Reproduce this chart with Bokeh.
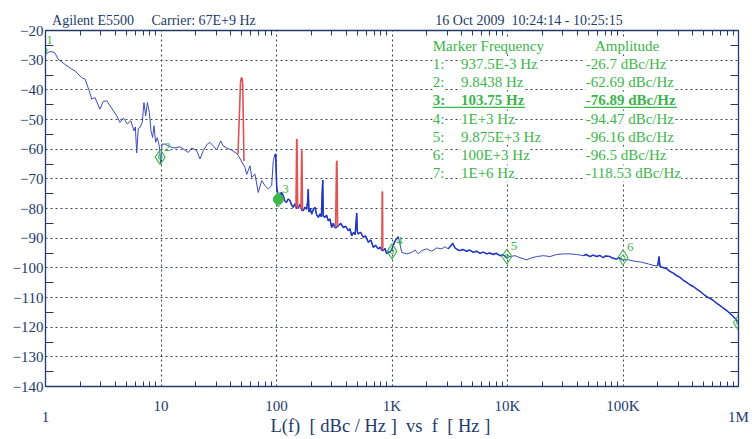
from bokeh.plotting import figure
from bokeh.models import Range1d, LogAxis, LinearAxis, FixedTicker, Label
from bokeh.core.properties import value
from bokeh.embed import file_html
from bokeh.resources import INLINE

# ---------------- data ----------------
freq_hz = [
    1.0, 1.09, 1.2, 1.29, 1.47, 1.68, 1.8, 2.06, 2.2, 2.42, 2.51, 2.68, 2.96, 3.16, 3.39,
    3.74, 4.14, 4.42, 4.72, 5.11, 5.47, 5.84, 6.0, 6.16, 6.36, 6.58, 6.88, 7.12, 7.37, 7.62,
    7.93, 8.19, 8.46, 8.7, 8.99, 9.29, 9.48, 9.66, 9.94, 10.2,
    10.83, 11.96, 13.21, 14.61, 15.6, 17.23, 18.43, 20.37, 21.76, 23.24, 25.17, 26.56, 28.37,
    30.36, 32.87, 34.6, 37.03, 40.93, 43.7, 45.8,
    53.4, 55.2, 59.0, 61.0, 65.1, 69.5, 74.5, 79.5, 84.9, 90.8, 93.8, 96.0, 98.4,
    100.4, 103.7, 107.2, 110, 114.5, 118, 122.5, 126, 130.9, 135, 139.7, 144, 147.5, 154.4,
    160, 165.2, 170.6, 176, 182.4, 186, 188.4, 191, 196, 201.7, 208, 215.4, 222, 230.1, 238,
    245, 248, 251.3, 254, 263, 271, 280.7, 290, 300.4, 310, 318, 325, 343, 360, 378.8, 398,
    418.5, 432, 447.9, 465, 480, 490, 494.8, 500, 510.6, 535, 564.6, 590, 623.7, 655, 689,
    720, 761, 790, 815, 841, 870, 899.6, 930, 961,
    1000, 1060, 1135, 1213, 1341, 1482, 1581, 1690, 1808, 1997, 2206, 2437, 2693, 2875,
    3070, 3355, 3509, 3700, 3878, 4100, 4433, 4700, 5058, 5400, 5780, 6200, 6607, 7000,
    7540, 8000, 8610, 9200, 9840,
    10510, 11620, 12830, 14660, 16200, 17910, 20420, 23340, 26670, 30420, 34770, 39720,
    45310, 48000, 51790, 55000, 59180, 63000, 67500, 70000, 77110, 82000, 88110, 93000, 98600,
    111200, 127000, 145200, 165600, 189200, 200000, 205000, 209000, 222000, 238800, 255000,
    272700, 290000, 311600, 333000, 356100, 380000, 406200, 435000, 464500, 497000, 530900,
    566000, 605300, 650000, 691800, 740000, 790700, 845000, 901500, 950000, 1000000,
]
phase_noise_dbc = [
    -28.0, -27.1, -27.4, -29.7, -31.4, -33.0, -33.6, -35.9, -36.4, -40.9, -43.1, -42.6, -46.5, -43.9, -43.7,
    -46.2, -48.8, -51.0, -49.5, -51.5, -50.4, -53.8, -52.5, -61.3, -53.0, -52.7, -51.0, -44.3, -48.8, -44.3,
    -47.6, -53.8, -56.1, -52.1, -57.7, -56.1, -57.5, -58.9, -64.8, -58.3,
    -58.3, -59.2, -59.6, -59.2, -60.0, -61.1, -59.6, -60.5, -63.3, -60.5, -58.3, -57.7, -58.9,
    -60.3, -57.2, -58.9, -59.6, -60.3, -61.1, -61.6,
    -66.2, -68.5, -65.6, -69.5, -68.4, -74.6, -70.6, -72.3, -73.4, -72.3, -63.9, -62.5, -61.6,
    -72.9, -76.5, -76.3, -74.5, -75.7, -77.5, -77.9, -76.8, -77.3, -78.8, -79.6, -78.4, -79.6, -79.8,
    -78.6, -80.5, -80.7, -79.6, -80.2, -77.5, -73.5, -81.2, -80.0, -81.9, -80.4, -79.6, -82.0, -83.0, -81.8,
    -82.8, -76.0, -70.4, -82.5, -83.0, -82.2, -84.1, -83.5, -86.4, -85.0, -86.2, -86.5, -85.8, -85.0, -86.4, -86.0,
    -87.5, -86.8, -89.2, -88.0, -88.8, -84.0, -81.5, -87.5, -88.6, -88.0, -89.7, -89.2, -91.4, -90.6, -93.1,
    -92.4, -93.6, -93.0, -94.0, -94.2, -93.5, -95.3, -94.6, -94.8,
    -93.5, -91.0, -89.5, -94.8, -95.3, -94.8, -94.0, -95.3, -94.2, -93.6, -94.4, -93.3, -93.6, -92.9,
    -93.6, -91.7, -93.3, -93.9, -94.2, -93.8, -94.4, -94.0, -94.8, -94.4, -95.1, -94.7, -95.3, -95.0,
    -95.5, -95.1, -95.9, -95.6, -96.6,
    -96.2, -95.9, -96.6, -97.3, -96.6, -96.2, -95.9, -96.2, -95.5, -95.3, -95.3, -95.5,
    -95.9, -95.5, -96.2, -95.7, -96.2, -95.8, -96.6, -96.0, -96.2, -96.8, -97.0, -96.6, -97.3,
    -97.3, -97.8, -98.1, -98.7, -99.3, -99.3, -96.2, -99.6, -99.9, -100.3, -101.2,
    -101.8, -102.6, -103.2, -104.2, -104.9, -105.7, -106.3, -107.2, -107.9, -108.9, -109.7,
    -110.3, -111.0, -112.0, -112.7, -113.6, -114.4, -115.4, -116.4, -117.4, -118.5,
]

# spurs (drawn in red)
spur_50_freq = [46.4, 48.8, 49.5, 50.3, 51.0, 52.3]
spur_50_dbc = [-61.6, -37.5, -36.0, -36.0, -38.0, -64.0]
spur_150_freq = [147.5, 149.5, 150.5, 152.5]
spur_150_dbc = [-79.5, -56.6, -56.8, -80.0]
spur_165_freq = [163, 165, 166, 168]
spur_165_dbc = [-80.0, -60.5, -60.6, -80.5]
spur_335_freq = [325, 331, 334, 338]
spur_335_dbc = [-86.0, -64.5, -63.9, -85.8]
spur_825_freq = [818, 822, 827, 832]
spur_825_dbc = [-93.5, -74.4, -74.4, -94.0]

# frequency bands where the analyser trace is drawn denser/darker
dense_bands = [(95, 1200), (3000, 10000), (40000, 100000), (200000, 1000000)]

marker_id = ["1", "2", "3", "4", "5", "6", "7"]
marker_freq = [0.9375, 9.8438, 103.75, 1000, 9875, 100000, 1000000]
marker_dbc = [-26.7, -62.69, -76.89, -94.47, -96.16, -96.5, -118.53]
marker_freq_text = ["937.5E-3 Hz", "9.8438 Hz", "103.75 Hz", "1E+3 Hz", "9.875E+3 Hz", "100E+3 Hz", "1E+6 Hz"]
marker_amp_text = ["-26.7 dBc/Hz", "-62.69 dBc/Hz", "-76.89 dBc/Hz", "-94.47 dBc/Hz",
                   "-96.16 dBc/Hz", "-96.5 dBc/Hz", "-118.53 dBc/Hz"]
active_marker = 2

x_ticks = [1, 10, 100, 1000, 10000, 100000, 1000000]
x_tick_labels = ["1", "10", "100", "1K", "10K", "100K", "1M"]
y_ticks = [-140, -130, -120, -110, -100, -90, -80, -70, -60, -50, -40, -30, -20]

NB = "\u00a0"
header_texts = ["Agilent E5500", "Carrier: 67E+9 Hz", "16 Oct 2009 " + NB + "10:24:14 - 10:25:15"]
header_centre_freq = [2.58, 23.4, 15350]
x_title = "L(f) " + NB + "[ dBc / Hz ] " + NB + "vs " + NB + "f " + NB + "[ Hz ]" + NB * 5

# ---------------- styling ----------------
NAVY = "#22386a"
TXT = "#223a6c"
GRID = "#3a4058"
GREEN = "#3cb54a"
TRACE = "#3a4cbc"
DENSE = "#2236c4"
RED = "#e35252"
SERIF = "Liberation Serif"

p = figure(width=752, height=439, x_axis_type="log",
           x_range=Range1d(1, 1e6), y_range=Range1d(-140, -20),
           output_backend="svg", toolbar_location=None,
           min_border_left=45, min_border_right=14, min_border_top=30, min_border_bottom=53,
           background_fill_color="white", border_fill_color="white",
           outline_line_color=NAVY, outline_line_width=1.3)

minor_x = [m * d for d in x_ticks[:-1] for m in range(2, 10)]
minor_y = [t + 5 for t in y_ticks[:-1]]

# bottom axis (inner labels 10 .. 100K, title)
xa = p.xaxis[0]
xa.ticker = FixedTicker(ticks=x_ticks, minor_ticks=minor_x)
xa.major_label_overrides = {t: (lab if t not in (1, 1000000) else "") for t, lab in zip(x_ticks, x_tick_labels)}
xa.major_tick_in = 0
xa.major_tick_out = 0
xa.minor_tick_in = 5
xa.minor_tick_out = 0
xa.axis_line_color = NAVY
xa.minor_tick_line_color = NAVY
xa.major_label_text_font = SERIF
xa.major_label_text_font_size = "15px"
xa.major_label_text_color = TXT
xa.major_label_standoff = 11
xa.axis_label = x_title
xa.axis_label_text_font = SERIF
xa.axis_label_text_font_style = "normal"
xa.axis_label_text_font_size = "18.5px"
xa.axis_label_text_color = TXT
xa.axis_label_standoff = -1

# second bottom axis carrying only the end labels "1" and "1M" (set lower)
xb = LogAxis(ticker=FixedTicker(ticks=[x_ticks[0], x_ticks[-1]]),
             major_label_overrides={x_ticks[0]: x_tick_labels[0], x_ticks[-1]: x_tick_labels[-1]},
             axis_line_color=None, major_tick_line_color=None, minor_tick_line_color=None,
             major_tick_in=0, major_tick_out=0, minor_tick_in=0, minor_tick_out=0,
             major_label_text_font=SERIF, major_label_text_font_size="15px",
             major_label_text_color=TXT, major_label_standoff=-30)
p.add_layout(xb, "below")

# left axis
ya = p.yaxis[0]
ya.ticker = FixedTicker(ticks=y_ticks, minor_ticks=minor_y)
ya.major_tick_in = 0
ya.major_tick_out = 0
ya.minor_tick_in = 8
ya.minor_tick_out = 0
ya.axis_line_color = NAVY
ya.minor_tick_line_color = NAVY
ya.major_label_text_font = SERIF
ya.major_label_text_font_size = "15px"
ya.major_label_text_color = TXT
ya.major_label_standoff = 2

# right axis (ticks only)
ra = LinearAxis(ticker=FixedTicker(ticks=y_ticks, minor_ticks=minor_y),
                major_label_overrides={t: "" for t in y_ticks},
                major_tick_in=0, major_tick_out=0, minor_tick_in=8, minor_tick_out=0,
                axis_line_color=NAVY, minor_tick_line_color=NAVY, major_label_standoff=0)
p.add_layout(ra, "right")

# top axis: minor ticks plus the instrument header texts
ta = LogAxis(ticker=FixedTicker(ticks=header_centre_freq, minor_ticks=minor_x),
             major_label_overrides={f: s for f, s in zip(header_centre_freq, header_texts)},
             major_tick_in=0, major_tick_out=0, minor_tick_in=5, minor_tick_out=0,
             axis_line_color=NAVY, minor_tick_line_color=NAVY, major_tick_line_color=None,
             major_label_standoff=3, major_label_text_font=SERIF,
             major_label_text_font_size="14px", major_label_text_color=TXT)
p.add_layout(ta, "above")

# grids
p.xgrid.ticker = FixedTicker(ticks=x_ticks[1:-1])
p.ygrid.ticker = FixedTicker(ticks=y_ticks[1:-1])
for g in (p.xgrid[0], p.ygrid[0]):
    g.grid_line_color = GRID
    g.grid_line_dash = "2 3"
    g.grid_line_width = 1.1

# trace
p.line(freq_hz, phase_noise_dbc, line_color=TRACE, line_width=1.0)
for lo, hi in dense_bands:
    sel = [i for i, f in enumerate(freq_hz) if lo <= f <= hi]
    p.line([freq_hz[i] for i in sel], [phase_noise_dbc[i] for i in sel],
           line_color=DENSE, line_width=1.5)
for fx, fy in ((spur_50_freq, spur_50_dbc), (spur_150_freq, spur_150_dbc),
               (spur_165_freq, spur_165_dbc), (spur_335_freq, spur_335_dbc),
               (spur_825_freq, spur_825_dbc)):
    p.line(fx, fy, line_color=RED, line_width=1.6)

# markers
p.scatter(marker_freq, marker_dbc, marker="diamond", size=15, fill_alpha=0,
          line_color=GREEN, line_width=1.1)
p.scatter(marker_freq, marker_dbc, marker="circle", size=4, fill_alpha=0,
          line_color=GREEN, line_width=1.0)
p.scatter([marker_freq[active_marker]], [marker_dbc[active_marker]], marker="circle", size=10,
          fill_color=GREEN, line_color=GREEN)
p.text(marker_freq, marker_dbc, text=marker_id, x_offset=4, y_offset=-6,
       text_font=value(SERIF), text_font_size="13px", text_color=GREEN,
       text_baseline="bottom", text_align="left")

# marker table
col_id, col_f, col_a, col_hdr_a = 2250, 3957, 47540, 57240
row0 = -25.2
step = 6.13
p.add_layout(Label(x=col_id, y=row0, text="Marker Frequency", text_font=SERIF, text_font_size="15px",
                   text_color=GREEN, text_baseline="middle", background_fill_color="white"))
p.add_layout(Label(x=col_hdr_a, y=row0, text="Amplitude", text_font=SERIF, text_font_size="15px",
                   text_color=GREEN, text_baseline="middle", background_fill_color="white"))
for i in range(len(marker_id)):
    yy = row0 - step * (i + 1)
    style = "bold" if i == active_marker else "normal"
    for fx, s in ((col_id, marker_id[i] + ":"), (col_f, marker_freq_text[i]), (col_a, marker_amp_text[i])):
        p.add_layout(Label(x=fx, y=yy, text=s, text_font=SERIF, text_font_size="15px",
                           text_font_style=style, text_color=GREEN, text_baseline="middle",
                           background_fill_color="white"))
uy = row0 - step * (active_marker + 1) - 2.3
p.segment(x0=[col_id, col_a - 1500], y0=[uy, uy], x1=[14190, 293000], y1=[uy, uy],
          line_color=GREEN, line_width=1.3, level="overlay")

open("out.html", "w").write(file_html(p, INLINE))
